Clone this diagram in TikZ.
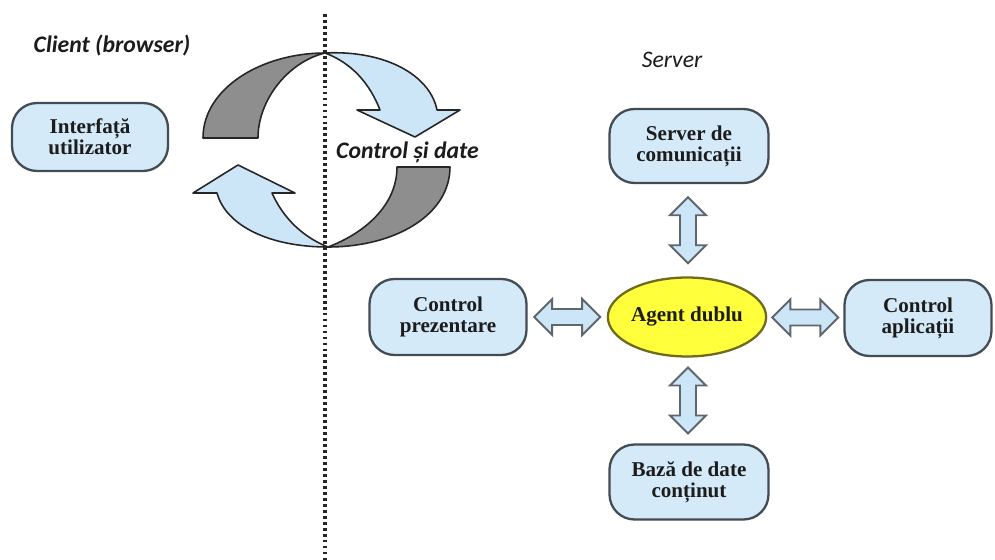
\documentclass[tikz,border=0pt]{standalone}
\usepackage{fontspec}
\setmainfont{Liberation Serif}
\newfontfamily\labelfont{Carlito}
\usetikzlibrary{calc,shapes.geometric}

\definecolor{boxfill}{HTML}{D4EAF9}
\definecolor{boxline}{HTML}{434B53}
\definecolor{bandgray}{HTML}{8E8E8E}
\definecolor{bandblue}{HTML}{CDE6F7}
\definecolor{agentfill}{HTML}{FFFF3C}
\definecolor{agentline}{HTML}{6E6A1E}
\definecolor{inktext}{HTML}{1C1C1C}

\tikzset{
  roundbox/.style={draw=boxline, line width=1.3pt, fill=boxfill,
    rounded corners=0.5cm, align=center, text=inktext,
    font=\bfseries\fontsize{12}{12}\selectfont, inner sep=0pt},
  agentbox/.style={ellipse, draw=agentline, line width=1.3pt, fill=agentfill,
    text=inktext, font=\bfseries\fontsize{12}{12}\selectfont, inner sep=0pt},
  fatarrow/.style={draw=boxline!85, line width=1.1pt, fill=bandblue, line join=miter},
  band/.style={draw=black!85, line width=0.9pt, line join=round},
  heading/.style={text=inktext, font=\labelfont\itshape\fontsize{13.5}{14}\selectfont},
  pics/dblarrow/.style={code={
    \draw[fatarrow] (0,-33) -- (18,-15) -- (8,-15) -- (8,15) -- (18,15) -- (0,33)
      -- (-18,15) -- (-8,15) -- (-8,-15) -- (-18,-15) -- cycle;}}
}

\begin{document}
\begin{tikzpicture}[x=0.02cm, y=-0.02cm]
\useasboundingbox[fill=white] (0,0) rectangle (995,560);

% client / server divider
\coordinate (divtop) at (325,14);
\coordinate (divbot) at (325,560);
\draw[line width=2.2pt, dash pattern=on 1.6pt off 1.8pt, black!85] (divtop) -- (divbot);

% headings
\node[heading, font=\labelfont\bfseries\itshape\fontsize{13.5}{14}\selectfont] (client) at (112,45) {Client (browser)};
\node[heading] (server) at (672,60) {Server};

% circulating arrows between client and server
\fill[bandgray] (325,53) .. controls (262,53) and (203,88) .. (203,138) -- (258,138)
  .. controls (258,100) and (288,62) .. (325,53) -- cycle;
\draw[band] (325,53) .. controls (262,53) and (203,88) .. (203,138) -- (258,138)
  .. controls (258,100) and (288,62) .. (325,53);
\draw[band, fill=bandblue] (325,53) .. controls (385,50) and (430,75) .. (437,110)
  -- (460,110) -- (415,137) -- (357,110) -- (380,110)
  .. controls (370,84) and (352,63) .. (325,53) -- cycle;

\draw[band, fill=bandgray] (397,167) -- (450,167)
  .. controls (450,215) and (395,247) .. (328,247)
  .. controls (365,233) and (397,205) .. (397,167) -- cycle;
\draw[band, fill=bandblue] (328,247) .. controls (270,247) and (226,226) .. (217,193)
  -- (193,193) -- (238,165) -- (295,193) -- (272,193)
  .. controls (284,220) and (305,238) .. (328,247) -- cycle;

\node[heading, font=\labelfont\bfseries\itshape\fontsize{13.5}{14}\selectfont, anchor=west] (flow) at (330,152) {Control și date};

% components
\node[roundbox, minimum width=3.12cm, minimum height=1.36cm] (ui) at (90,137) {Interfață\\utilizator};
\node[roundbox, minimum width=3.18cm, minimum height=1.48cm] (srv) at (689,146) {Server de\\comunicații};
\node[roundbox, minimum width=3.14cm, minimum height=1.52cm] (cp) at (448,317) {Control\\prezentare};
\node[agentbox, minimum width=3.14cm, minimum height=1.58cm] (agent) at (687,317) {Agent dublu};
\node[roundbox, minimum width=2.94cm, minimum height=1.52cm] (ca) at (918,318) {Control\\aplicații};
\node[roundbox, minimum width=3.18cm, minimum height=1.5cm] (db) at (689,482) {Bază de date\\conținut};

% two-way links to the agent
\pic at ($(srv.south)!0.5!(agent.north)$) {dblarrow};
\pic at ($(agent.south)!0.5!(db.north)$) {dblarrow};
\pic[rotate=90] at ($(cp.east)!0.5!(agent.west)$) {dblarrow};
\pic[rotate=90] at ($(agent.east)!0.5!(ca.west)$) {dblarrow};
\end{tikzpicture}
\end{document}
